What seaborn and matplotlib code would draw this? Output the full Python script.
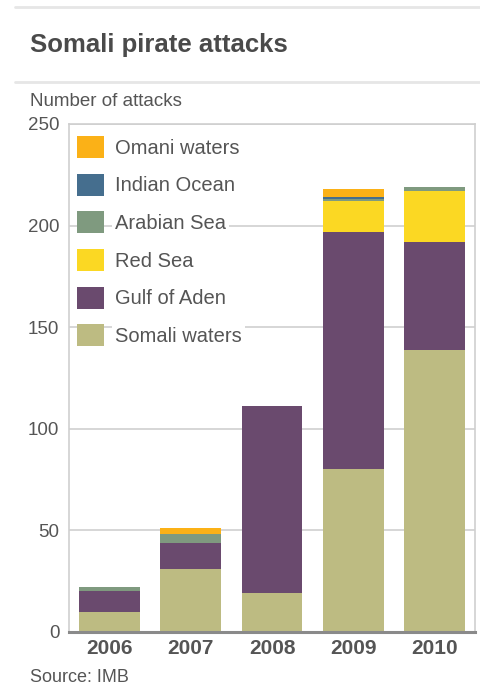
import numpy as np
import pandas as pd
import seaborn as sns
import matplotlib.pyplot as plt
from matplotlib.patches import Patch
from matplotlib.lines import Line2D

years = ["2006", "2007", "2008", "2009", "2010"]
somali_waters = [10, 31, 19, 80, 139]
gulf_of_aden = [10, 13, 92, 117, 53]
red_sea = [0, 0, 0, 15, 25]
arabian_sea = [2, 4, 0, 1, 2]
indian_ocean = [0, 0, 0, 1, 0]
omani_waters = [0, 3, 0, 4, 0]

regions = ["Somali waters", "Gulf of Aden", "Red Sea", "Arabian Sea", "Indian Ocean", "Omani waters"]
colors = ["#bdbb82", "#6a4a6e", "#fbd823", "#7f9a7f", "#456e8e", "#fbb117"]


def main():
    sns.set_style("white")
    plt.rcParams["font.family"] = ["Liberation Sans", "DejaVu Sans"]

    df = pd.DataFrame({"year": years,
                       "Somali waters": somali_waters,
                       "Gulf of Aden": gulf_of_aden,
                       "Red Sea": red_sea,
                       "Arabian Sea": arabian_sea,
                       "Indian Ocean": indian_ocean,
                       "Omani waters": omani_waters})
    cum = df[regions].cumsum(axis=1)

    fig = plt.figure(figsize=(4.8, 6.88), dpi=100)
    ax = fig.add_axes([69 / 480, 1 - 632 / 688, 406 / 480, 508 / 688])

    # stacked bars: draw cumulative totals from the top layer down
    for name, col in reversed(list(zip(regions, colors))):
        sns.barplot(x=df["year"], y=cum[name], color=col, saturation=1,
                    width=0.75, linewidth=0, order=years, ax=ax)

    txt = "#555555"
    ax.set_ylim(0, 250)
    ax.set_xlim(-0.5, 4.5)
    ax.set_yticks([0, 50, 100, 150, 200, 250])
    ax.set_axisbelow(True)
    ax.yaxis.grid(True, color="#cfcfcf", linewidth=1.2)
    ax.set_xlabel("")
    ax.set_ylabel("")
    ax.tick_params(axis="y", labelsize=13.5, colors=txt, length=0, pad=7)
    ax.tick_params(axis="x", length=0, pad=5)
    for lab in ax.get_xticklabels():
        lab.set_fontsize(15)
        lab.set_fontweight("bold")
        lab.set_color(txt)
    for side in ["left", "top", "right"]:
        ax.spines[side].set_color("#cfcfcf")
        ax.spines[side].set_linewidth(1.2)
    ax.spines["bottom"].set_color("#8a8a8a")
    ax.spines["bottom"].set_linewidth(2.2)

    handles = [Patch(facecolor=c, edgecolor="none", label=r)
               for r, c in zip(regions, colors)][::-1]
    leg = ax.legend(handles=handles, loc="upper left", bbox_to_anchor=(4 / 406, 1 - 8 / 508),
                    borderaxespad=0, borderpad=0.2, fontsize=14.5,
                    handlelength=1.35, handleheight=1.3, handletextpad=0.55,
                    labelspacing=0.78, frameon=False)
    for t in leg.get_texts():
        t.set_color(txt)
        t.set_bbox(dict(facecolor="white", edgecolor="none", pad=2))

    # header lines and texts
    for yy in [7, 82]:
        fig.add_artist(Line2D([15 / 480, 1], [1 - yy / 688, 1 - yy / 688],
                              color="#e6e6e6", linewidth=2))
    fig.text(30 / 480, 1 - 45 / 688, "Somali pirate attacks", fontsize=18.5,
             fontweight="bold", color="#4a4a4a", va="center", ha="left")
    fig.text(30 / 480, 1 - 101 / 688, "Number of attacks", fontsize=13.5,
             color=txt, va="center", ha="left")
    fig.text(30 / 480, 1 - 677 / 688, "Source: IMB", fontsize=13,
             color=txt, va="center", ha="left")

    fig.savefig("out.png", dpi=100)
    plt.close(fig)


if __name__ == '__main__':
    main()
